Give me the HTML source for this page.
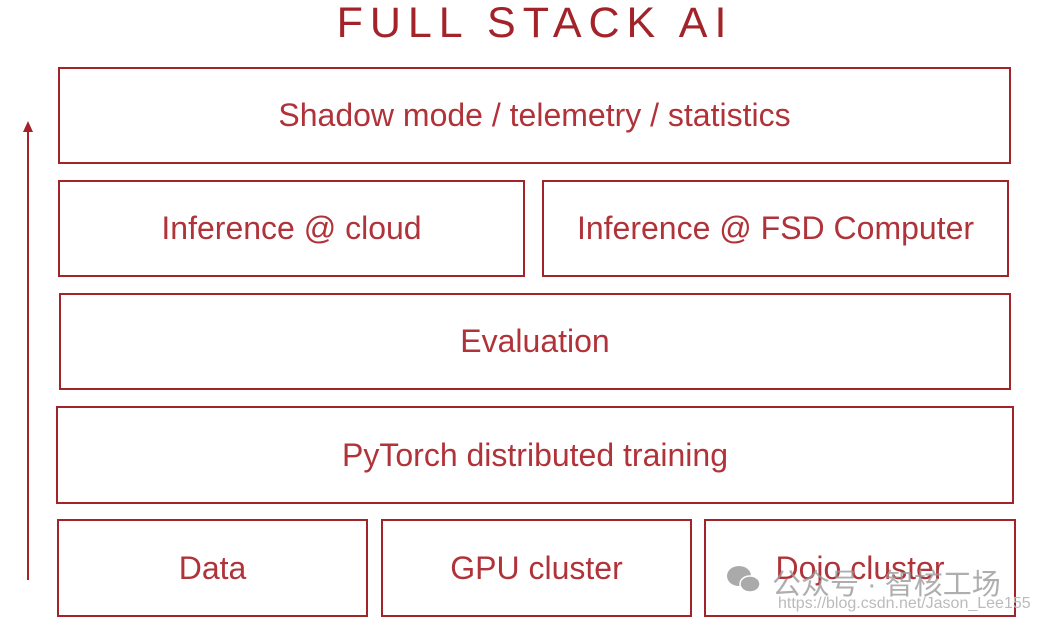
<!DOCTYPE html>
<html><head><meta charset="utf-8"><style>
body{margin:0;width:1037px;height:623px;background:#fff;position:relative;overflow:hidden;font-family:"Liberation Sans","DejaVu Sans",sans-serif;color:#a3232a}
.b{position:absolute;border:2px solid #a3232a;box-sizing:border-box;display:flex;align-items:center;justify-content:center;font-size:32px;color:#b0333a}
.t{position:absolute;left:0;width:1070px;text-align:center;top:-1px;font-size:43px;letter-spacing:7px;font-weight:300;color:#a3232a}
.w{position:absolute;color:#9a9a9a;font-family:"Liberation Sans","Noto Sans CJK SC",sans-serif}
</style></head><body>
<div class="t">FULL STACK AI</div>
<div class="b" style="left:58px;top:67px;width:953px;height:97px">Shadow mode / telemetry / statistics</div>
<div class="b" style="left:58px;top:180px;width:467px;height:97px">Inference @ cloud</div>
<div class="b" style="left:542px;top:180px;width:467px;height:97px">Inference @ FSD Computer</div>
<div class="b" style="left:59px;top:293px;width:952px;height:97px">Evaluation</div>
<div class="b" style="left:56px;top:406px;width:958px;height:98px">PyTorch distributed training</div>
<div class="b" style="left:57px;top:519px;width:311px;height:98px">Data</div>
<div class="b" style="left:381px;top:519px;width:311px;height:98px">GPU cluster</div>
<div class="b" style="left:704px;top:519px;width:312px;height:98px">Dojo cluster</div>
<svg style="position:absolute;left:0;top:0" width="1037" height="623">
<line x1="28" y1="130" x2="28" y2="580" stroke="#a3232a" stroke-width="2"/>
<polygon points="23,132 33,132 28,121" fill="#a3232a"/>
<ellipse cx="739" cy="576" rx="12" ry="10" fill="#aaa"/><ellipse cx="750" cy="584" rx="10" ry="8" fill="#aaa" stroke="#fff" stroke-width="1.5"/>
</svg>
<div class="w" style="left:772px;top:561px;font-size:29px;opacity:.8">公众号 · 智核工场</div>
<div class="w" style="left:778px;top:595px;font-size:16px;color:#bbb">https://blog.csdn.net/Jason_Lee155</div>
</body></html>
